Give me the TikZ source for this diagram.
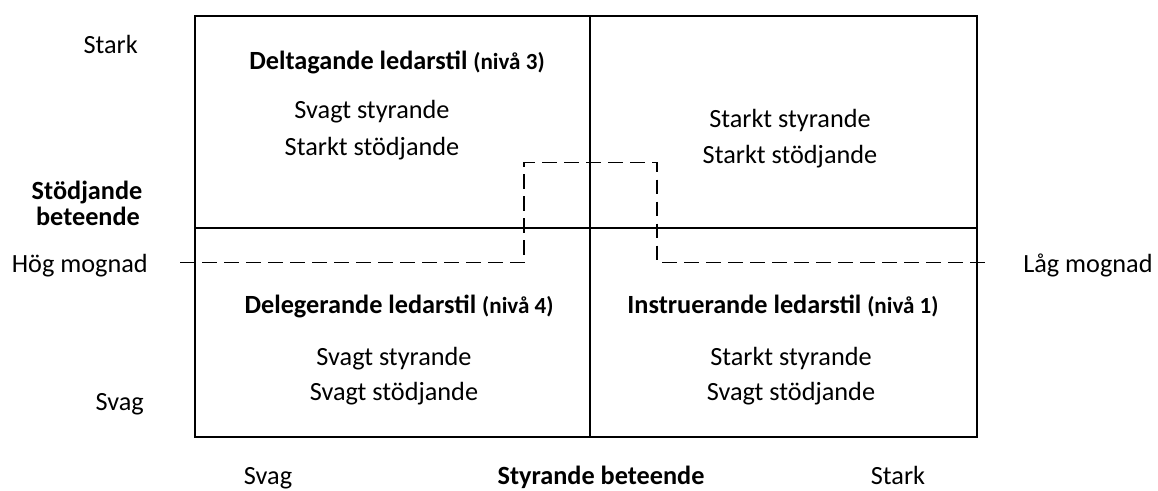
\documentclass[tikz,border=0pt]{standalone}
\usepackage{fontspec}
\setmainfont{Carlito}
\begin{document}
\begin{tikzpicture}[x=0.75pt,y=-0.75pt,
  lbl/.style={inner sep=0pt,anchor=base,font=\fontsize{19.7}{24}\selectfont},
  blbl/.style={inner sep=0pt,anchor=base,font=\fontsize{19.7}{24}\selectfont\bfseries},
  boxline/.style={line width=1.6pt},
  dline/.style={line width=1.4pt,dash pattern=on 11pt off 5.5pt}]
\newcommand{\niva}[1]{{\fontsize{17.3}{20}\selectfont(nivå #1)}}
\useasboundingbox (0,0) rectangle (1158,490);
% grid
\coordinate (TL) at (195,16);
\coordinate (BR) at (977,437);
\coordinate (MT) at (590,16);
\coordinate (MB) at (590,437);
\coordinate (ML) at (195,228);
\coordinate (MR) at (977,228);
\draw[boxline] (TL) rectangle (BR);
\draw[boxline] (MT) -- (MB);
\draw[boxline] (ML) -- (MR);
% dashed path
\coordinate (d0) at (180,262.5);
\coordinate (d1) at (524,262.5);
\coordinate (d2) at (524,162.5);
\coordinate (d3) at (657,162.5);
\coordinate (d4) at (657,262.5);
\coordinate (d5) at (992,262.5);
\draw[dline] (d0) -- (d1) -- (d2) -- (d3) -- (d4) -- (d5);
% quadrant texts
\node[blbl] (q1t) at (397,69) {Deltagande ledarstil \niva{3}};
\node[lbl] (q1a) at (372,118) {Svagt styrande};
\node[lbl] (q1b) at (372,155) {Starkt stödjande};
\node[lbl] (q2a) at (790,127) {Starkt styrande};
\node[lbl] (q2b) at (790,163) {Starkt stödjande};
\node[blbl] (q3t) at (399,313) {Delegerande ledarstil \niva{4}};
\node[lbl] (q3a) at (394,365) {Svagt styrande};
\node[lbl] (q3b) at (394,400) {Svagt stödjande};
\node[blbl] (q4t) at (783,313) {Instruerande ledarstil \niva{1}};
\node[lbl] (q4a) at (791,365) {Starkt styrande};
\node[lbl] (q4b) at (791,400) {Svagt stödjande};
% side labels
\node[lbl,anchor=base east] (ystark) at (138,53) {Stark};
\node[blbl] (yl1) at (87,199) {Stödjande};
\node[blbl] (yl2) at (88,225) {beteende};
\node[lbl,anchor=base east] (hog) at (148,272) {Hög mognad};
\node[lbl,anchor=base west] (lag) at (1023,272) {Låg mognad};
\node[lbl,anchor=base east] (ysvag) at (144,410) {Svag};
\node[lbl] (xsvag) at (268,484) {Svag};
\node[blbl] (xl) at (601,484) {Styrande beteende};
\node[lbl] (xstark) at (898,484) {Stark};
\end{tikzpicture}
\end{document}
